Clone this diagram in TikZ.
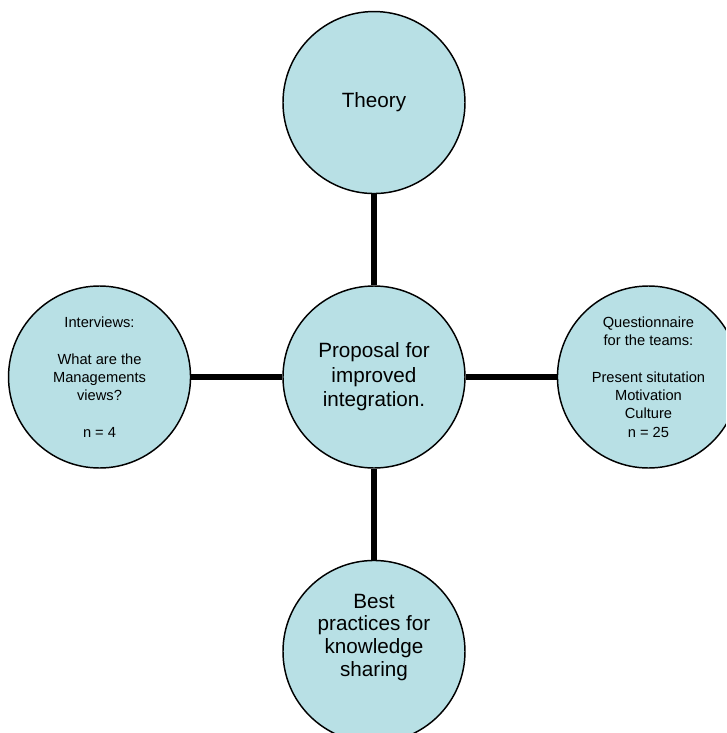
\documentclass[tikz,border=0pt]{standalone}
\usepackage{fontspec}
\setmainfont{Liberation Sans}
\usetikzlibrary{positioning}
\definecolor{bubblefill}{RGB}{184,224,229}

\begin{document}
\begin{tikzpicture}[x=0.75pt, y=0.75pt,
      node distance=68.25pt, % gap between circle borders
      bubble/.style={draw=black, line width=1.1pt, circle, fill=bubblefill, minimum size=136.5pt, inner sep=0pt, align=center, font=\fontsize{15.5}{18.4}\selectfont},
      smallbubble/.style={bubble, font=\fontsize{11}{13.7}\selectfont},
      spoke/.style={line width=4.5pt}
    ]
    % Picture frame (outer circles are cut at the border)
    \clip (-374,377) rectangle (352,-356);
    % Central proposal
    \node [bubble] (proposal) at (0,0) {Proposal for\\improved\\integration.};
    % Sources around the proposal
    \node [bubble, above=of proposal] (theory) {Theory};
    \node [smallbubble, left=of proposal] (interviews) {Interviews:\\[13.7pt]What are the\\Managements\\views?\\[13.7pt]n = 4};
    \node [smallbubble, right=of proposal] (questionnaire) {Questionnaire\\for the teams:\\[13.7pt]Present situtation\\Motivation\\Culture\\n = 25};
    \node [bubble, below=of proposal, font=\fontsize{15.5}{17}\selectfont] (practices)
      {\raisebox{10.5pt}[\height][\depth]{\begin{tabular}{@{}c@{}}Best\\practices for\\knowledge\\sharing\end{tabular}}};
    % Spokes
    \draw [spoke] (proposal) -- (theory);
    \draw [spoke] (proposal) -- (interviews);
    \draw [spoke] (proposal) -- (questionnaire);
    \draw [spoke] (proposal) -- (practices);
\end{tikzpicture}
\end{document}
